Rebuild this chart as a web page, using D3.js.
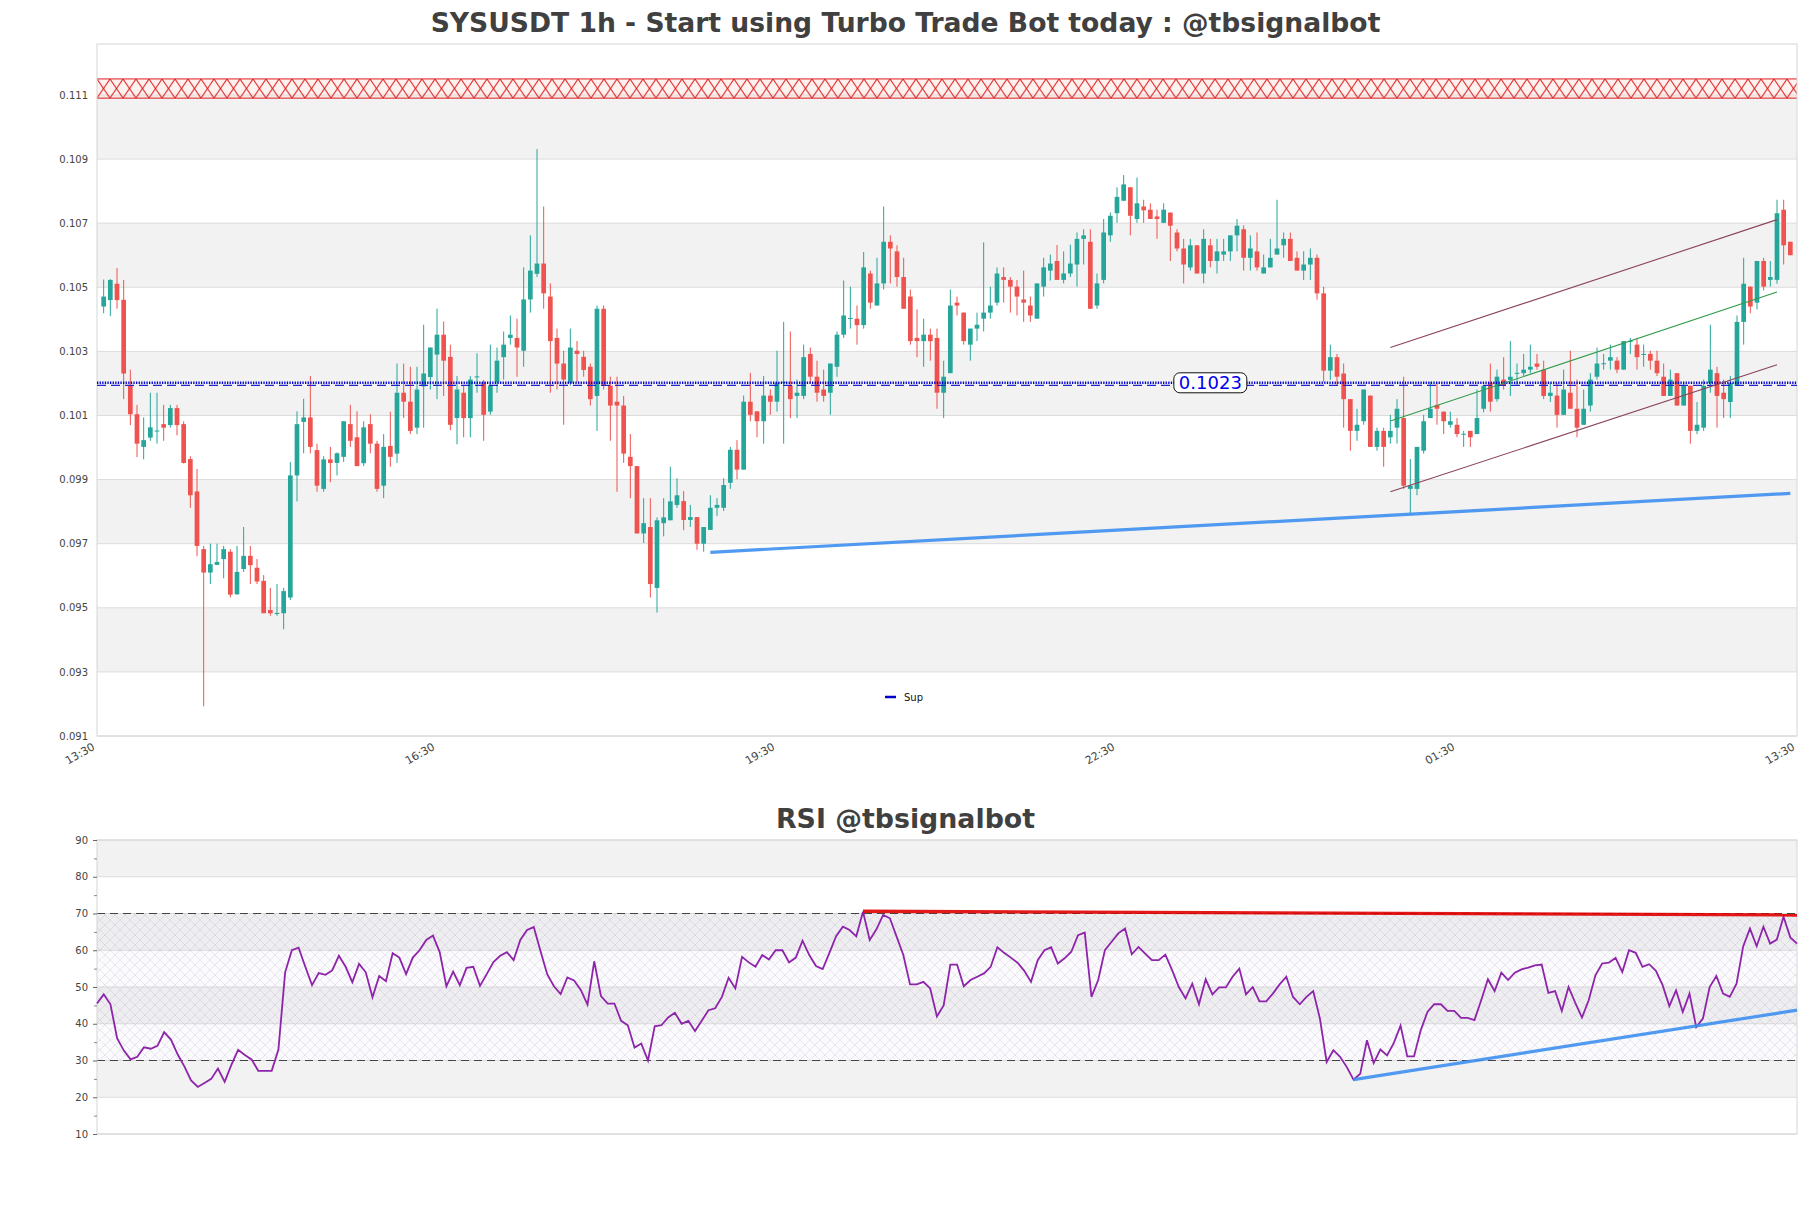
<!DOCTYPE html>
<html>
<head>
<meta charset="utf-8">
<script src="https://cdn.jsdelivr.net/npm/d3@7"></script>
<style>
  body { margin: 0; background: #fff; }
  text { font-family: "DejaVu Sans", sans-serif; }
</style>
</head>
<body>
<div id="chart"></div>
<script>
// Candles (oldest first)
const opens = [
  0.10440,0.10460,0.10511,0.10461,0.10195,0.10104,0.10002,0.10031,0.10052,0.10073,
  0.10070,0.10123,0.10073,0.09964,0.09863,0.09683,0.09610,0.09634,0.09652,0.09675,
  0.09542,0.09621,0.09662,0.09625,0.09584,0.09493,0.09482,0.09483,0.09532,0.09913,
  0.10080,0.10094,0.09992,0.09871,0.09963,0.09952,0.09971,0.10073,0.10032,0.09951,
  0.10073,0.10012,0.09881,0.10005,0.09981,0.10171,0.10143,0.10062,0.10191,0.10220,
  0.10290,0.10352,0.10283,0.10092,0.10171,0.10092,0.10221,0.10204,0.10112,0.10204,
  0.10282,0.10342,0.10342,0.10302,0.10462,0.10542,0.10574,0.10471,0.10342,0.10262,
  0.10202,0.10302,0.10283,0.10252,0.10161,0.10433,0.10193,0.10143,0.10131,0.09971,
  0.09942,0.09732,0.09752,0.09562,0.09764,0.09773,0.09821,0.09833,0.09774,0.09783,
  0.09700,0.09743,0.09812,0.09812,0.09890,0.09993,0.09931,0.10143,0.10113,0.10082,
  0.10162,0.10143,0.10202,0.10193,0.10161,0.10161,0.10292,0.10221,0.10181,0.10171,
  0.10252,0.10352,0.10402,0.10402,0.10382,0.10543,0.10443,0.10512,0.10642,0.10612,
  0.10532,0.10471,0.10342,0.10332,0.10352,0.10342,0.10171,0.10232,0.10452,0.10421,
  0.10321,0.10371,0.10402,0.10421,0.10452,0.10532,0.10523,0.10502,0.10462,0.10443,
  0.10402,0.10502,0.10552,0.10582,0.10523,0.10543,0.10571,0.10651,0.10642,0.10443,
  0.10523,0.10662,0.10731,0.10770,0.10812,0.10713,0.10752,0.10742,0.10721,0.10701,
  0.10733,0.10671,0.10621,0.10562,0.10631,0.10543,0.10631,0.10582,0.10602,0.10612,
  0.10662,0.10681,0.10592,0.10612,0.10543,0.10562,0.10602,0.10631,0.10651,0.10592,
  0.10552,0.10571,0.10592,0.10481,0.10240,0.10282,0.10231,0.10151,0.10052,0.10082,
  0.10162,0.10002,0.10052,0.10032,0.10062,0.10092,0.09871,0.09871,0.09990,0.10092,
  0.10133,0.10112,0.10071,0.10071,0.10042,0.10052,0.10042,0.10121,0.10202,0.10151,
  0.10212,0.10211,0.10231,0.10232,0.10243,0.10262,0.10243,0.10161,0.10162,0.10102,
  0.10171,0.10121,0.10071,0.10131,0.10221,0.10261,0.10271,0.10271,0.10243,0.10332,
  0.10321,0.10291,0.10292,0.10271,0.10221,0.10161,0.10232,0.10131,0.10193,0.10052,
  0.10062,0.10201,0.10232,0.10171,0.10142,0.10193,0.10392,0.10502,0.10452,0.10582,
  0.10523,0.10523,0.10742,0.10642
];
const highs = [
  0.10524,0.10525,0.10560,0.10523,0.10243,0.10133,0.10094,0.10171,0.10171,0.10133,
  0.10133,0.10133,0.10082,0.09973,0.09933,0.09693,0.09700,0.09700,0.09693,0.09683,
  0.09693,0.09752,0.09693,0.09652,0.09602,0.09562,0.09574,0.09562,0.09955,0.10113,
  0.10152,0.10223,0.10012,0.09973,0.10002,0.09985,0.10082,0.10133,0.10113,0.10082,
  0.10104,0.10021,0.10042,0.10112,0.10262,0.10262,0.10252,0.10252,0.10383,0.10312,
  0.10433,0.10393,0.10321,0.10223,0.10193,0.10223,0.10294,0.10211,0.10321,0.10312,
  0.10362,0.10412,0.10402,0.10562,0.10662,0.10931,0.10752,0.10512,0.10371,0.10302,
  0.10371,0.10332,0.10302,0.10262,0.10443,0.10443,0.10221,0.10221,0.10161,0.10042,
  0.09942,0.09842,0.09842,0.09782,0.09842,0.09940,0.09904,0.09864,0.09821,0.09783,
  0.09752,0.09851,0.09842,0.09904,0.10002,0.10023,0.10162,0.10233,0.10113,0.10223,
  0.10181,0.10302,0.10392,0.10362,0.10212,0.10321,0.10312,0.10271,0.10243,0.10262,
  0.10362,0.10521,0.10502,0.10443,0.10610,0.10552,0.10592,0.10752,0.10662,0.10631,
  0.10592,0.10493,0.10431,0.10402,0.10371,0.10371,0.10271,0.10493,0.10471,0.10421,
  0.10371,0.10421,0.10640,0.10502,0.10562,0.10562,0.10532,0.10523,0.10552,0.10471,
  0.10512,0.10592,0.10602,0.10632,0.10612,0.10633,0.10671,0.10681,0.10681,0.10543,
  0.10713,0.10733,0.10812,0.10850,0.10812,0.10842,0.10773,0.10762,0.10742,0.10762,
  0.10733,0.10681,0.10651,0.10651,0.10631,0.10681,0.10651,0.10651,0.10651,0.10662,
  0.10713,0.10693,0.10662,0.10671,0.10602,0.10651,0.10773,0.10671,0.10671,0.10612,
  0.10612,0.10621,0.10602,0.10502,0.10321,0.10292,0.10262,0.10151,0.10121,0.10181,
  0.10162,0.10062,0.10062,0.10102,0.10151,0.10221,0.09964,0.10002,0.10102,0.10205,
  0.10202,0.10112,0.10112,0.10092,0.10052,0.10052,0.10181,0.10193,0.10262,0.10243,
  0.10282,0.10332,0.10262,0.10292,0.10321,0.10292,0.10271,0.10201,0.10201,0.10243,
  0.10302,0.10212,0.10181,0.10232,0.10312,0.10292,0.10321,0.10282,0.10332,0.10342,
  0.10342,0.10321,0.10302,0.10302,0.10262,0.10243,0.10232,0.10201,0.10193,0.10142,
  0.10212,0.10383,0.10252,0.10212,0.10223,0.10412,0.10592,0.10502,0.10582,0.10592,
  0.10582,0.10773,0.10773,0.10642
];
const lows = [
  0.10419,0.10410,0.10433,0.10151,0.10070,0.09970,0.09963,0.10021,0.10012,0.10021,
  0.10062,0.10038,0.09950,0.09812,0.09661,0.09193,0.09574,0.09633,0.09592,0.09532,
  0.09541,0.09612,0.09574,0.09574,0.09483,0.09475,0.09475,0.09433,0.09524,0.09832,
  0.09982,0.09982,0.09862,0.09862,0.09892,0.09913,0.09955,0.10002,0.09942,0.09942,
  0.09982,0.09862,0.09842,0.09940,0.09952,0.10092,0.10042,0.10042,0.10062,0.10181,
  0.10151,0.10161,0.10054,0.10010,0.10032,0.10032,0.10171,0.10021,0.10102,0.10171,
  0.10212,0.10321,0.10221,0.10252,0.10421,0.10532,0.10433,0.10171,0.10181,0.10071,
  0.10193,0.10203,0.10221,0.10131,0.10052,0.10181,0.10021,0.09862,0.09952,0.09842,
  0.09732,0.09702,0.09532,0.09485,0.09723,0.09773,0.09812,0.09742,0.09752,0.09681,
  0.09675,0.09743,0.09786,0.09802,0.09871,0.09901,0.09931,0.10082,0.10032,0.10012,
  0.10102,0.10112,0.10012,0.10092,0.10092,0.10151,0.10201,0.10143,0.10143,0.10102,
  0.10221,0.10342,0.10371,0.10321,0.10371,0.10433,0.10443,0.10493,0.10512,0.10502,
  0.10433,0.10321,0.10282,0.10252,0.10271,0.10121,0.10092,0.10232,0.10412,0.10321,
  0.10271,0.10332,0.10362,0.10402,0.10443,0.10452,0.10421,0.10412,0.10392,0.10392,
  0.10402,0.10471,0.10521,0.10523,0.10512,0.10532,0.10502,0.10571,0.10433,0.10433,
  0.10512,0.10642,0.10701,0.10770,0.10662,0.10701,0.10701,0.10713,0.10651,0.10701,
  0.10582,0.10612,0.10512,0.10552,0.10543,0.10512,0.10562,0.10543,0.10582,0.10582,
  0.10612,0.10552,0.10552,0.10552,0.10543,0.10562,0.10602,0.10592,0.10582,0.10552,
  0.10523,0.10523,0.10461,0.10205,0.10211,0.10193,0.10062,0.09990,0.10021,0.10071,
  0.10002,0.09990,0.09940,0.10012,0.10012,0.09871,0.09794,0.09851,0.09981,0.10092,
  0.10071,0.10042,0.10062,0.10032,0.10002,0.10002,0.10042,0.10110,0.10112,0.10143,
  0.10181,0.10161,0.10193,0.10223,0.10232,0.10243,0.10151,0.10142,0.10062,0.10102,
  0.10121,0.10032,0.10071,0.10112,0.10212,0.10243,0.10243,0.10232,0.10243,0.10292,
  0.10243,0.10252,0.10243,0.10223,0.10161,0.10161,0.10131,0.10131,0.10012,0.10042,
  0.10052,0.10171,0.10062,0.10092,0.10092,0.10193,0.10321,0.10419,0.10431,0.10490,
  0.10502,0.10511,0.10571,0.10600
];
const closes = [
  0.10471,0.10523,0.10460,0.10231,0.10104,0.10012,0.10023,0.10063,0.10053,0.10062,
  0.10123,0.10070,0.09952,0.09851,0.09693,0.09610,0.09636,0.09643,0.09683,0.09541,
  0.09612,0.09662,0.09633,0.09582,0.09483,0.09483,0.09484,0.09552,0.09913,0.10073,
  0.10094,0.10002,0.09881,0.09963,0.09952,0.09982,0.10082,0.10021,0.09942,0.10063,
  0.10012,0.09871,0.10002,0.09971,0.10171,0.10143,0.10052,0.10181,0.10231,0.10312,
  0.10352,0.10271,0.10071,0.10181,0.10092,0.10212,0.10222,0.10102,0.10193,0.10271,
  0.10321,0.10352,0.10312,0.10462,0.10552,0.10574,0.10481,0.10332,0.10262,0.10212,
  0.10312,0.10292,0.10242,0.10151,0.10433,0.10193,0.10131,0.10131,0.09981,0.09942,
  0.09732,0.09764,0.09574,0.09773,0.09782,0.09832,0.09851,0.09774,0.09783,0.09700,
  0.09752,0.09812,0.09821,0.09883,0.09993,0.09931,0.10143,0.10102,0.10082,0.10162,
  0.10143,0.10202,0.10205,0.10151,0.10171,0.10282,0.10221,0.10171,0.10161,0.10262,
  0.10352,0.10412,0.10404,0.10382,0.10562,0.10452,0.10512,0.10642,0.10621,0.10532,
  0.10433,0.10332,0.10332,0.10352,0.10332,0.10171,0.10221,0.10443,0.10443,0.10332,
  0.10371,0.10383,0.10421,0.10443,0.10543,0.10523,0.10502,0.10471,0.10452,0.10412,
  0.10512,0.10562,0.10574,0.10523,0.10543,0.10574,0.10651,0.10662,0.10433,0.10512,
  0.10671,0.10723,0.10782,0.10821,0.10723,0.10762,0.10740,0.10713,0.10713,0.10742,
  0.10692,0.10621,0.10571,0.10631,0.10543,0.10651,0.10582,0.10612,0.10612,0.10662,
  0.10692,0.10592,0.10621,0.10562,0.10562,0.10592,0.10621,0.10651,0.10582,0.10552,
  0.10571,0.10592,0.10481,0.10240,0.10282,0.10221,0.10151,0.10052,0.10071,0.10181,
  0.10002,0.10052,0.10002,0.10052,0.10121,0.09881,0.09881,0.10002,0.10082,0.10121,
  0.10121,0.10082,0.10082,0.10042,0.10043,0.10032,0.10092,0.10193,0.10143,0.10221,
  0.10193,0.10221,0.10233,0.10243,0.10252,0.10252,0.10161,0.10171,0.10102,0.10181,
  0.10121,0.10062,0.10121,0.10212,0.10262,0.10263,0.10282,0.10243,0.10332,0.10333,
  0.10282,0.10292,0.10271,0.10232,0.10161,0.10212,0.10131,0.10193,0.10052,0.10071,
  0.10193,0.10243,0.10161,0.10151,0.10201,0.10392,0.10511,0.10440,0.10582,0.10502,
  0.10532,0.10731,0.10631,0.10600
];

// RSI, one value per candle
const rsiValues = [
  45.5,48,45.3,36,32.7,30.3,31,33.6,33.2,34,
  37.7,35.7,31.7,28.4,24.6,22.8,23.9,25,27.8,24.2,
  28.8,32.9,31.5,30.3,27.2,27.2,27.2,33,54,60,
  60.7,55.5,50.5,53.8,53.3,54.5,58.5,55.5,51.3,56.3,
  54,47.2,53,51.6,59.2,58,53.5,58,60,62.8,
  64,59.5,50.2,54.2,50.5,55.2,55.5,50.3,53.5,56.8,
  58.5,59.5,57.3,62.8,65.5,66.3,59.8,53.5,50.2,48.1,
  52.6,51.8,49.2,45.2,57,47.5,45.5,45.5,40.8,39.6,
  33.5,34.6,30,39.3,39.6,41.7,43,40,40.8,38,
  40.8,43.7,44.2,47.3,52.5,49.6,58.2,56.7,55.5,58.7,
  57.5,60,60,56.7,58,62.6,58.7,55.7,54.9,59.3,
  63.8,66.4,65.5,63.8,70.5,62.8,65.7,69.6,68.7,63.7,
  58.7,50.7,50.7,51.4,49.6,42,45,56.1,56.1,50.2,
  51.9,52.8,53.7,55.5,60.8,59.3,58,56.6,54.4,51.4,
  57.3,60,60.8,56.4,57.8,59.6,64.1,64.8,47.3,51.9,
  60,62.3,64.6,65.9,58.9,60.9,59.1,57.3,57.3,58.8,
  54.6,50,46.9,50.9,45.3,52.1,48,49.9,49.9,52.8,
  55,48,50,46.1,46.1,48.2,50.7,52.8,47.3,45.3,
  47.3,48.9,41.4,29.6,32.8,31,28.2,24.8,26.4,35.5,
  29.3,33,31.4,34.8,39.5,31.1,31.1,38.2,43.2,45.3,
  45.3,43.5,43.5,41.6,41.6,41,46.4,52.1,48.9,53.9,
  51.9,53.9,54.8,55.3,55.9,56.1,48.4,48.9,43.5,50,
  45.7,41.7,46.4,53.2,56.4,56.6,57.9,54.1,60,59.3,
  55.5,56.2,54.4,50.5,44.8,49.1,43.2,48.2,39.1,41.4,
  50,53,48.2,47.3,50.9,61.1,65.9,61.1,66.4,61.8,
  62.9,69.1,63.5,61.8
];

const priceTicks = [0.091, 0.093, 0.095, 0.097, 0.099, 0.101, 0.103, 0.105, 0.107, 0.109, 0.111];
const rsiTicks = [10, 20, 30, 40, 50, 60, 70, 80, 90];
const timeLabels = ['13:30', '16:30', '19:30', '22:30', '01:30', '13:30'];

// Levels and drawn lines: [candle index, value]
const supLevel = 0.10202;
const supDashLevel = 0.10194;
const supLabel = '0.1023';
const resistanceZone = [0.1109, 0.1115];
const priceTrend = [[91, 0.09673], [253, 0.09857]];
const channelUpper = [[193, 0.10312], [251, 0.10711]];
const channelMid = [[193, 0.10083], [251, 0.10485]];
const channelLower = [[193, 0.09862], [251, 0.10258]];
const rsiResistance = [[114, 70.6], [253, 69.6]];
const rsiSupport = [[187, 24.8], [253, 43.7]];

const N = closes.length;
const W = 1811, H = 1208;
const box = { left: 97, right: 1797, top: 44, bottom: 736 };
const rbox = { left: 97, right: 1797, top: 840, bottom: 1134 };

const svg = d3.select('#chart').append('svg')
    .attr('width', W)
    .attr('height', H)
    .style('background', '#fff');
const defs = svg.append('defs');

const x = d3.scaleLinear().domain([-1, N]).range([box.left, box.right]);
const y = d3.scaleLinear().domain([0.091, 0.11259]).range([box.bottom, box.top]);
const xr = d3.scaleLinear().domain([0, N - 1]).range([rbox.left, rbox.right]);
const yr = d3.scaleLinear().domain([10, 90]).range([rbox.bottom, rbox.top]);

// Title
svg.append('text')
    .attr('x', W / 2)
    .attr('y', 32)
    .attr('text-anchor', 'middle')
    .attr('font-size', 26.6)
    .attr('font-weight', 'bold')
    .attr('fill', '#404040')
    .text('SYSUSDT 1h - Start using Turbo Trade Bot today : @tbsignalbot');

// ---------- price panel ----------
const main = svg.append('g');

// alternating bands
d3.pairs(priceTicks).forEach((p, i) => {
    if (i % 2 === 1) {
        main.append('rect')
            .attr('x', box.left).attr('width', box.right - box.left)
            .attr('y', y(p[1])).attr('height', y(p[0]) - y(p[1]))
            .attr('fill', '#f2f2f2');
    }
});

main.selectAll('.grid')
    .data(priceTicks)
    .enter()
    .append('line')
    .attr('x1', box.left).attr('x2', box.right)
    .attr('y1', d => y(d)).attr('y2', d => y(d))
    .attr('stroke', '#dcdcdc')
    .attr('stroke-width', 1);

// resistance zone with red cross hatch
const zTop = y(resistanceZone[1]);
const zBot = y(resistanceZone[0]);
const zh = zBot - zTop;
const redHatch = defs.append('pattern')
    .attr('id', 'redHatch')
    .attr('patternUnits', 'userSpaceOnUse')
    .attr('x', box.left).attr('y', zTop)
    .attr('width', 13).attr('height', zh);
redHatch.append('path')
    .attr('d', `M0,0L13,${zh}M13,0L0,${zh}`)
    .attr('stroke', '#dc1f22')
    .attr('stroke-width', 1)
    .attr('fill', 'none');
main.append('rect')
    .attr('x', box.left).attr('width', box.right - box.left)
    .attr('y', zTop).attr('height', zh)
    .attr('fill', 'rgba(255,215,205,0.35)');
main.append('rect')
    .attr('x', box.left).attr('width', box.right - box.left)
    .attr('y', zTop).attr('height', zh)
    .attr('fill', 'url(#redHatch)');
[zTop, zBot].forEach(v => {
    main.append('line')
        .attr('x1', box.left).attr('x2', box.right)
        .attr('y1', v).attr('y2', v)
        .attr('stroke', '#dc1f22').attr('stroke-width', 1);
});

// frame
main.append('rect')
    .attr('x', box.left).attr('y', box.top)
    .attr('width', box.right - box.left).attr('height', box.bottom - box.top)
    .attr('fill', 'none').attr('stroke', '#d6d6d6');

// y axis
const yAxis = main.append('g')
    .attr('transform', `translate(${box.left},0)`)
    .call(d3.axisLeft(y).tickValues(priceTicks).tickFormat(d3.format('.3f')).tickSize(0).tickPadding(9));
yAxis.select('.domain').remove();
yAxis.selectAll('text').attr('font-size', 10).attr('fill', '#444').attr('font-family', 'DejaVu Sans');

// x axis
const tickIdx = timeLabels.map((d, k) => -1 + k * (N + 1) / (timeLabels.length - 1));
const xAxis = main.append('g')
    .attr('transform', `translate(0,${box.bottom})`)
    .call(d3.axisBottom(x).tickValues(tickIdx).tickFormat((d, k) => timeLabels[k]).tickSize(0));
xAxis.select('.domain').remove();
xAxis.selectAll('text')
    .attr('font-size', 11)
    .attr('fill', '#444')
    .attr('font-family', 'DejaVu Sans')
    .attr('text-anchor', 'end')
    .attr('y', 0)
    .attr('dy', 0)
    .attr('transform', 'translate(-2,13) rotate(-30)');

// candles
const data = closes.map((c, i) => ({ i, o: opens[i], h: highs[i], l: lows[i], c }));
const bodyW = 4.7;
const up = '#26a69a', down = '#ef5350';
const candles = main.append('g');
candles.selectAll('line')
    .data(data)
    .enter()
    .append('line')
    .attr('x1', d => x(d.i)).attr('x2', d => x(d.i))
    .attr('y1', d => y(d.h)).attr('y2', d => y(d.l))
    .attr('stroke', d => d.c >= d.o ? up : down)
    .attr('stroke-width', 1);
candles.selectAll('rect')
    .data(data)
    .enter()
    .append('rect')
    .attr('x', d => x(d.i) - bodyW / 2)
    .attr('width', bodyW)
    .attr('y', d => y(Math.max(d.o, d.c)))
    .attr('height', d => Math.max(1, Math.abs(y(d.o) - y(d.c))))
    .attr('fill', d => d.c >= d.o ? up : down);

// support level lines
main.append('line')
    .attr('x1', box.left).attr('x2', box.right)
    .attr('y1', y(supLevel)).attr('y2', y(supLevel))
    .attr('stroke', '#0000c8').attr('stroke-width', 2.4)
    .attr('stroke-dasharray', '1.3,1.3');
main.append('line')
    .attr('x1', box.left).attr('x2', box.right)
    .attr('y1', y(supDashLevel)).attr('y2', y(supDashLevel))
    .attr('stroke', '#2323d0').attr('stroke-width', 1.4)
    .attr('stroke-dasharray', '9,5');

// trend lines
const seg = (pts, sx, sy) => d3.line().x(d => sx(d[0])).y(d => sy(d[1]))(pts);
main.append('path').attr('d', seg(priceTrend, x, y))
    .attr('stroke', '#3d8ff0').attr('stroke-width', 3.2).attr('opacity', 0.9).attr('fill', 'none');
main.append('path').attr('d', seg(channelUpper, x, y))
    .attr('stroke', '#8a4458').attr('stroke-width', 1.1).attr('fill', 'none');
main.append('path').attr('d', seg(channelLower, x, y))
    .attr('stroke', '#8a4458').attr('stroke-width', 1.1).attr('fill', 'none');
main.append('path').attr('d', seg(channelMid, x, y))
    .attr('stroke', '#2e9a4a').attr('stroke-width', 1.1).attr('fill', 'none');

// level label
const lab = main.append('g').attr('transform', `translate(${x(166)},${y(supLevel)})`);
const labText = lab.append('text')
    .attr('text-anchor', 'middle')
    .attr('dy', '0.36em')
    .attr('font-size', 18)
    .attr('fill', '#0000ee')
    .text(supLabel);
const tw = labText.node().getComputedTextLength();
lab.insert('rect', 'text')
    .attr('x', -tw / 2 - 5).attr('y', -10)
    .attr('width', tw + 10).attr('height', 20)
    .attr('rx', 6)
    .attr('fill', '#fff').attr('stroke', '#111').attr('stroke-width', 1);

// legend
const leg = main.append('g').attr('transform', `translate(885,${box.bottom - 39})`);
leg.append('line').attr('x1', 0).attr('x2', 11).attr('y1', 0).attr('y2', 0)
    .attr('stroke', '#0000c8').attr('stroke-width', 2.5);
leg.append('text').attr('x', 19).attr('y', 4).attr('font-size', 10).attr('fill', '#111').text('Sup');

// ---------- RSI panel ----------
svg.append('text')
    .attr('x', W / 2)
    .attr('y', 828)
    .attr('text-anchor', 'middle')
    .attr('font-size', 26.8)
    .attr('font-weight', 'bold')
    .attr('fill', '#404040')
    .text('RSI @tbsignalbot');

const rsi = svg.append('g');
d3.pairs(rsiTicks).forEach((p, i) => {
    if (i % 2 === 1) {
        rsi.append('rect')
            .attr('x', rbox.left).attr('width', rbox.right - rbox.left)
            .attr('y', yr(p[1])).attr('height', yr(p[0]) - yr(p[1]))
            .attr('fill', '#f2f2f2');
    }
});
rsi.selectAll('.grid')
    .data(rsiTicks)
    .enter()
    .append('line')
    .attr('x1', rbox.left).attr('x2', rbox.right)
    .attr('y1', d => yr(d)).attr('y2', d => yr(d))
    .attr('stroke', '#dcdcdc');

// hatched 30-70 zone
const gHatch = defs.append('pattern')
    .attr('id', 'rsiHatch')
    .attr('patternUnits', 'userSpaceOnUse')
    .attr('width', 10).attr('height', 10);
gHatch.append('path')
    .attr('d', 'M0,0L10,10M10,0L0,10')
    .attr('stroke', 'rgba(150,135,170,0.3)')
    .attr('stroke-width', 0.6)
    .attr('fill', 'none');
rsi.append('rect')
    .attr('x', rbox.left).attr('width', rbox.right - rbox.left)
    .attr('y', yr(70)).attr('height', yr(30) - yr(70))
    .attr('fill', 'rgba(170,150,190,0.05)');
rsi.append('rect')
    .attr('x', rbox.left).attr('width', rbox.right - rbox.left)
    .attr('y', yr(70)).attr('height', yr(30) - yr(70))
    .attr('fill', 'url(#rsiHatch)');

[70, 30].forEach(v => {
    rsi.append('line')
        .attr('x1', rbox.left).attr('x2', rbox.right)
        .attr('y1', yr(v)).attr('y2', yr(v))
        .attr('stroke', '#444').attr('stroke-width', 1.2)
        .attr('stroke-dasharray', '8,5');
});

rsi.append('rect')
    .attr('x', rbox.left).attr('y', rbox.top)
    .attr('width', rbox.right - rbox.left).attr('height', rbox.bottom - rbox.top)
    .attr('fill', 'none').attr('stroke', '#d6d6d6');

const rAxis = rsi.append('g')
    .attr('transform', `translate(${rbox.left},0)`)
    .call(d3.axisLeft(yr).tickValues(rsiTicks).tickSize(4).tickPadding(5));
rAxis.select('.domain').remove();
rAxis.selectAll('line').attr('stroke', '#666');
rAxis.selectAll('text').attr('font-size', 10).attr('fill', '#444').attr('font-family', 'DejaVu Sans');
const rMinor = rsi.append('g')
    .attr('transform', `translate(${rbox.left},0)`)
    .call(d3.axisLeft(yr).tickValues(d3.pairs(rsiTicks).map(p => (p[0] + p[1]) / 2)).tickSize(3).tickFormat(''));
rMinor.select('.domain').remove();
rMinor.selectAll('line').attr('stroke', '#888');

rsi.append('path')
    .datum(rsiValues)
    .attr('d', d3.line().x((d, i) => xr(i)).y(d => yr(d)))
    .attr('fill', 'none')
    .attr('stroke', '#8e24aa')
    .attr('stroke-width', 1.8);

rsi.append('path').attr('d', seg(rsiResistance, xr, yr))
    .attr('stroke', '#e00000').attr('stroke-width', 3.4).attr('opacity', 0.9).attr('fill', 'none');
rsi.append('path').attr('d', seg(rsiSupport, xr, yr))
    .attr('stroke', '#3d8ff0').attr('stroke-width', 3.2).attr('opacity', 0.9).attr('fill', 'none');
</script>
</body>
</html>
